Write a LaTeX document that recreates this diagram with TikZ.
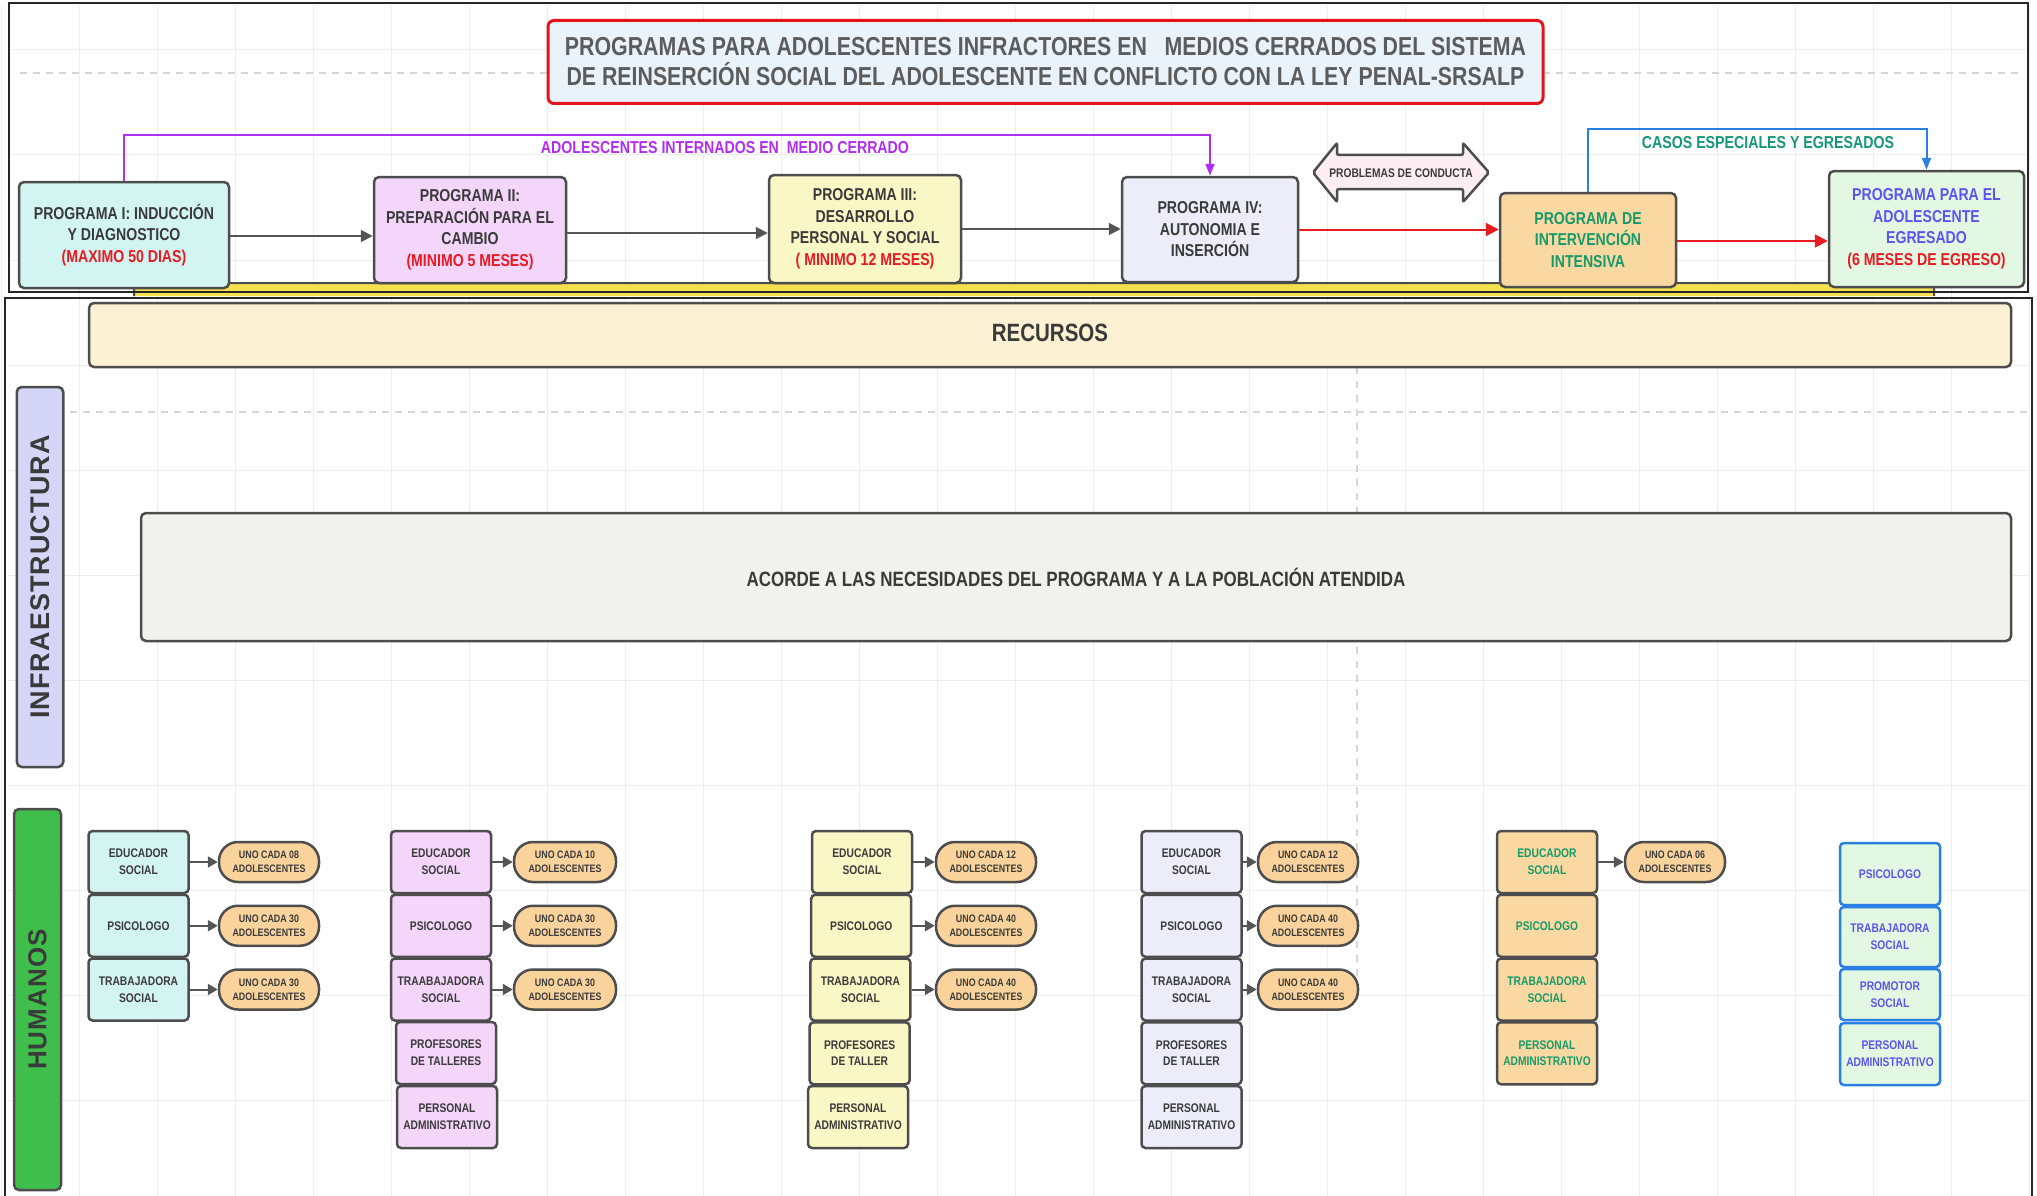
\documentclass[tikz,border=0pt]{standalone}
\usepackage{fontspec}
\setmainfont{Liberation Sans}
\newfontfamily\narrowfont{Liberation Sans}[FakeStretch=0.82]
\newfontfamily\widefont{Liberation Sans}[LetterSpace=4]
\usetikzlibrary{arrows.meta,positioning,calc}
\definecolor{boxline}{HTML}{4D4D4D}
\definecolor{txtgray}{HTML}{3A3A3A}
\definecolor{titlegray}{HTML}{5C5C5C}
\definecolor{titlered}{HTML}{E3141B}
\definecolor{titlefill}{HTML}{EAF3FA}
\definecolor{cyanfill}{HTML}{D3F5F1}
\definecolor{violetfill}{HTML}{F4D6FA}
\definecolor{yellowfill}{HTML}{FAF7C6}
\definecolor{lavfill}{HTML}{EDEDFA}
\definecolor{orangefill}{HTML}{F9D8A1}
\definecolor{mintfill}{HTML}{E2F8E3}
\definecolor{pillfill}{HTML}{F9D39B}
\definecolor{recfill}{HTML}{FDF1D3}
\definecolor{acofill}{HTML}{F1F1EE}
\definecolor{infrafill}{HTML}{D5D5F7}
\definecolor{humfill}{HTML}{3FBE4B}
\definecolor{purplearrow}{HTML}{B22DF2}
\definecolor{bluearrow}{HTML}{2A7FE3}
\definecolor{tealtext}{HTML}{17977A}
\definecolor{greentext}{HTML}{179A6B}
\definecolor{bluetext}{HTML}{5A55EE}
\definecolor{redtext}{HTML}{E81A22}
\definecolor{flowgray}{HTML}{555555}
\definecolor{barfill}{HTML}{F5E04E}
\definecolor{pinkfill}{HTML}{FCEEF3}
\definecolor{gridgray}{HTML}{EDEDED}
\definecolor{dashgray}{HTML}{D6D6D6}
\tikzset{
  prog/.style={draw=boxline, line width=2.5pt, rounded corners=5pt, align=center, inner sep=2pt,
    font=\narrowfont\bfseries\fontsize{17.2}{21.5}\selectfont, text=txtgray},
  staff/.style={draw=boxline, line width=2.5pt, rounded corners=4pt, minimum width=100pt,
    minimum height=62pt, align=center, inner sep=1pt,
    font=\narrowfont\bfseries\fontsize{12.5}{16.7}\selectfont, text=txtgray},
  ratio/.style={draw=boxline, fill=pillfill, line width=2.5pt, rounded corners=19pt,
    minimum width=100pt, minimum height=40pt, align=center, inner sep=1pt,
    font=\narrowfont\bfseries\fontsize{10.8}{14}\selectfont, text=txtgray},
  band/.style={draw=boxline, line width=2.5pt, rounded corners=5pt, inner sep=0pt, text=txtgray},
  flow/.style={-{Triangle[length=12pt,width=12pt]}, line width=2pt, draw=flowgray},
  redflow/.style={-{Triangle[length=13pt,width=13pt]}, line width=2pt, draw=redtext},
  link/.style={-{Triangle[length=10pt,width=11pt]}, line width=2pt, draw=flowgray},
  route/.style={line width=2pt, -{Triangle[length=12pt,width=9pt]}},
  tag/.style={font=\narrowfont\bfseries\fontsize{17.3}{20}\selectfont, inner sep=1pt},
}
\begin{document}
\begin{tikzpicture}[x=1pt,y=-1pt]
\useasboundingbox (0,0) rectangle (2037,1196);
\foreach \gx in {1,79,...,2037} \draw[gridgray, line width=1pt] (\gx,6) -- (\gx,1196);
\foreach \gy in {50,155,...,1196} \draw[gridgray, line width=1pt] (8,\gy) -- (2030,\gy);
\draw[dashgray, line width=2pt, dash pattern=on 7pt off 6pt] (20,73) -- (548,73) (1543,73) -- (2020,73);
\draw[dashgray, line width=2pt, dash pattern=on 7pt off 6pt] (70,412) -- (2030,412);
\draw[gridgray!90!black, line width=1.5pt, dash pattern=on 7pt off 7pt] (1357,367) -- (1357,1000);

\draw[boxline, fill=barfill, line width=2pt, rounded corners=4pt] (134,296) -- (134,283) -- (1934,283) -- (1934,296);
\draw[black!85, line width=1.5pt] (9,3) rectangle (2028,292);
\draw[black!85, line width=1.5pt] (5,1200) -- (5,298) -- (2032,298) -- (2032,1200);

\node[draw=titlered, fill=titlefill, line width=3pt, rounded corners=6pt, minimum width=995pt, minimum height=83pt,
  align=center, text=titlegray, font=\narrowfont\bfseries\fontsize{26}{30}\selectfont] (title) at (1045.5,62)
  {PROGRAMAS PARA ADOLESCENTES INFRACTORES EN~~ MEDIOS CERRADOS DEL SISTEMA\\
   DE REINSERCI\'ON SOCIAL DEL ADOLESCENTE EN CONFLICTO CON LA LEY PENAL-SRSALP};

\node[prog, fill=cyanfill, minimum width=210pt, minimum height=106pt] (p1) at (124,235)
  {PROGRAMA I: INDUCCI\'ON\\Y DIAGNOSTICO\\\textcolor{redtext}{(MAXIMO 50 DIAS)}};
\node[prog, fill=violetfill, minimum width=192pt, minimum height=106pt] (p2) at (470,230)
  {PROGRAMA II:\\PREPARACI\'ON PARA EL\\CAMBIO\\\textcolor{redtext}{(MINIMO 5 MESES)}};
\node[prog, fill=yellowfill, minimum width=192pt, minimum height=108pt] (p3) at (865,229)
  {PROGRAMA III:\\DESARROLLO\\PERSONAL Y SOCIAL\\\textcolor{redtext}{( MINIMO 12 MESES)}};
\node[prog, fill=lavfill, minimum width=176pt, minimum height=105pt] (p4) at (1210,229.5)
  {PROGRAMA IV:\\AUTONOMIA E\\INSERCI\'ON};
\node[prog, fill=orangefill, text=greentext, minimum width=176pt, minimum height=94pt] (interv) at (1588,240)
  {PROGRAMA DE\\INTERVENCI\'ON\\INTENSIVA};
\node[prog, fill=mintfill, text=bluetext, minimum width=195pt, minimum height=116pt] (egreso) at (1926.5,229)
  {PROGRAMA PARA EL\\ADOLESCENTE\\EGRESADO\\\textcolor{redtext}{(6 MESES DE EGRESO)}};

\draw[flow] ([yshift=-1pt]p1.east) -- ([yshift=-1pt]p1.east -| p2.west);
\draw[flow] ([yshift=-3pt]p2.east) -- ([yshift=-3pt]p2.east -| p3.west);
\draw[flow] (p3.east) -- (p3.east -| p4.west);
\draw[redflow] (p4.east) -- (p4.east -| interv.west);
\draw[redflow] ([yshift=-1pt]interv.east) -- ([yshift=-1pt]interv.east -| egreso.west);

\coordinate (rail1) at (0,135);
\coordinate (rail2) at (0,129);
\draw[route, purplearrow] (p1.north) -- (p1.north |- rail1) -| (p4.north);
\node[tag, text=purplearrow] (internados) at (725,148) {ADOLESCENTES INTERNADOS EN~ MEDIO CERRADO};
\draw[route, bluearrow] (interv.north) -- (interv.north |- rail2) -| (egreso.north);
\node[tag, text=tealtext] (casos) at (1768,143) {CASOS ESPECIALES Y EGRESADOS};

\draw[boxline, fill=pinkfill, line width=2.5pt, rounded corners=2pt]
  (1313,172.5) -- (1337,143) -- (1337,155) -- (1463,155) -- (1463,143) -- (1489,172.5)
  -- (1463,202) -- (1463,189) -- (1337,189) -- (1337,202) -- cycle;
\node[font=\narrowfont\bfseries\fontsize{12.5}{14}\selectfont, text=txtgray] (conducta) at (1401,173) {PROBLEMAS DE CONDUCTA};

\node[band, fill=recfill, minimum width=1922pt, minimum height=64pt,
  font=\narrowfont\bfseries\fontsize{25}{28}\selectfont] (recursos) at (1050,335) {\raisebox{4pt}{RECURSOS}};
\node[band, fill=infrafill, rotate=90, minimum width=380pt, minimum height=46.5pt,
  font=\widefont\bfseries\fontsize{27}{30}\selectfont] (infra) at (40,577) {INFRAESTRUCTURA};
\node[band, fill=acofill, minimum width=1870pt, minimum height=128pt,
  font=\narrowfont\bfseries\fontsize{20.7}{24}\selectfont] (acorde) at (1076,577)
  {ACORDE A LAS NECESIDADES DEL PROGRAMA Y A LA POBLACI\'ON ATENDIDA};
\node[band, fill=humfill, rotate=90, minimum width=381pt, minimum height=47pt,
  font=\widefont\bfseries\fontsize{26}{30}\selectfont] (humanos) at (37.5,999.5) {HUMANOS};

\foreach \t [count=\i] in {EDUCADOR\\SOCIAL, PSICOLOGO, TRABAJADORA\\SOCIAL}
  \node[staff, fill=cyanfill] (a\i) at (138.5,{862+63.75*(\i-1)}) {\t};
\foreach \n [count=\i] in {08,30,30}
  \node[ratio] (ra\i) at (269,{862+63.75*(\i-1)}) {UNO CADA \n\\ADOLESCENTES};

\foreach \t [count=\i] in {EDUCADOR\\SOCIAL, PSICOLOGO, TRAABAJADORA\\SOCIAL}
  \node[staff, fill=violetfill] (b\i) at (441,{862+63.75*(\i-1)}) {\t};
\node[staff, fill=violetfill] (b4) at (446,1053) {PROFESORES\\DE TALLERES};
\node[staff, fill=violetfill] (b5) at (447,1117) {PERSONAL\\ADMINISTRATIVO};
\foreach \n [count=\i] in {10,30,30}
  \node[ratio, minimum width=102pt] (rb\i) at (565,{862+63.75*(\i-1)}) {UNO CADA \n\\ADOLESCENTES};

\foreach \t [count=\i] in {EDUCADOR\\SOCIAL, PSICOLOGO, TRABAJADORA\\SOCIAL, PROFESORES\\DE TALLER}
  \node[staff, fill=yellowfill] (c\i) at ({862-0.8*(\i-1)},{862+63.75*(\i-1)}) {\t};
\node[staff, fill=yellowfill] (c5) at (858,1117) {PERSONAL\\ADMINISTRATIVO};
\foreach \n [count=\i] in {12,40,40}
  \node[ratio] (rc\i) at (986,{862+63.75*(\i-1)}) {UNO CADA \n\\ADOLESCENTES};

\foreach \t [count=\i] in {EDUCADOR\\SOCIAL, PSICOLOGO, TRABAJADORA\\SOCIAL, PROFESORES\\DE TALLER, PERSONAL\\ADMINISTRATIVO}
  \node[staff, fill=lavfill] (d\i) at (1191.5,{862+63.75*(\i-1)}) {\t};
\foreach \n [count=\i] in {12,40,40}
  \node[ratio] (rd\i) at (1308,{862+63.75*(\i-1)}) {UNO CADA \n\\ADOLESCENTES};

\foreach \t [count=\i] in {EDUCADOR\\SOCIAL, PSICOLOGO, TRABAJADORA\\SOCIAL, PERSONAL\\ADMINISTRATIVO}
  \node[staff, fill=orangefill, text=greentext] (e\i) at (1547,{862+63.75*(\i-1)}) {\t};
\node[ratio] (re1) at (1675,862) {UNO CADA 06\\ADOLESCENTES};

\node[staff, fill=mintfill, draw=bluearrow, text=bluetext] (f1) at (1890,874) {PSICOLOGO};
\node[staff, fill=mintfill, draw=bluearrow, text=bluetext, minimum height=60pt] (f2) at (1890,937) {TRABAJADORA\\SOCIAL};
\node[staff, fill=mintfill, draw=bluearrow, text=bluetext, minimum height=51pt] (f3) at (1890,994.5) {PROMOTOR\\SOCIAL};
\node[staff, fill=mintfill, draw=bluearrow, text=bluetext] (f4) at (1890,1054) {PERSONAL\\ADMINISTRATIVO};

\foreach \c in {a,b,c,d}
  \foreach \i in {1,2,3}
    \draw[link] (\c\i) -- (r\c\i);
\draw[link] (e1) -- (re1);
\end{tikzpicture}
\end{document}
